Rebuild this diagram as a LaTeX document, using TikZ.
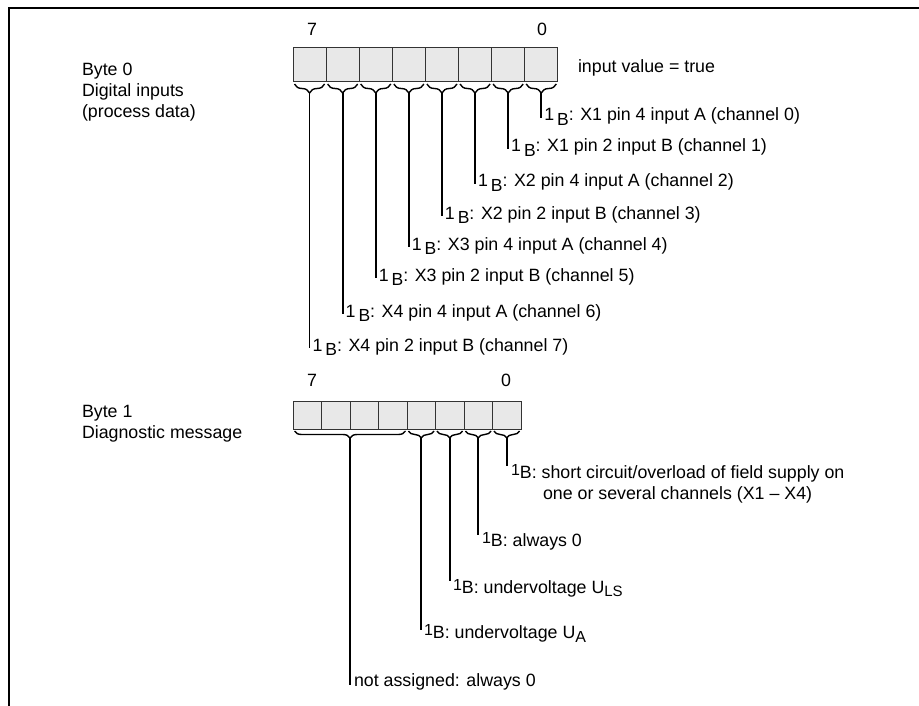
\documentclass[tikz,border=0pt]{standalone}
\usepackage{fontspec}
\setmainfont{Liberation Sans}
\usetikzlibrary{decorations.pathreplacing,calc}
\newcommand{\oneBa}{1\,\raisebox{-4.5pt}{\fontsize{17.5}{17.5}\selectfont B}}
\newcommand{\oneBb}{\raisebox{3pt}{\fontsize{16}{16}\selectfont 1}B}
\begin{document}
\begin{tikzpicture}[x=1pt,y=-1pt,
  txt/.style={inner sep=0pt, outer sep=0pt, font=\fontsize{17.8}{20.8}\selectfont},
  lbl/.style={txt, anchor=base west},
  cellA/.style={draw=black!80, fill=black!9, line width=1pt, minimum width=33.1pt, minimum height=34pt, inner sep=0pt, outer sep=0pt, anchor=north west},
  cellB/.style={cellA, minimum width=28.5pt, minimum height=28pt},
  brc/.style={decorate, decoration={brace, mirror, amplitude=#1}, line width=1.4pt},
  lead/.style={line width=1.8pt}]
\useasboundingbox (0,0) rectangle (919,706);
\draw[line width=2.8pt] (9,706) -- (9,8) -- (919,8);

% ---------- Byte 0 ----------
\node[txt, anchor=north west, align=left] (b0) at (82,63.3) {Byte 0\\Digital inputs\\(process data)};
\node[txt] (n07) at (312,29) {7};
\node[txt] (n00) at (542,29) {0};
\foreach \i in {0,...,7} {
  \node[cellA] (a\i) at ({293+33.1*\i},48) {};
  \draw[brc=9pt] ($(a\i.south west)+(1.5,2)$) -- ($(a\i.south east)+(-1.5,2)$);
  \coordinate (ta\i) at ($(a\i.south)+(0,11)$);
}
\node[lbl] (val) at (578,73) {input value = true};
\foreach \i/\b/\yy/\xc/\p/\io in {7/0/121/X1/4/A, 6/1/152/X1/2/B, 5/2/187/X2/4/A, 4/3/219/X2/2/B, 3/4/250/X3/4/A, 2/5/281/X3/2/B, 1/6/317/X4/4/A, 0/7/351/X4/2/B} {
  \node[lbl] (la\b) at ({293+33.1*\i+16.55+3},\yy) {\oneBa: \xc\ pin \p\ input \io\ (channel \b)};
  \draw[lead] (ta\i) -- ($(ta\i |- la\b.base)+(0,-3)$);
}

% ---------- Byte 1 ----------
\node[txt, anchor=north west, align=left] (b1) at (82,405.3) {Byte 1\\Diagnostic message};
\node[txt] (n17) at (312,380) {7};
\node[txt] (n10) at (506,380) {0};
\foreach \i in {0,...,7} {
  \node[cellB] (c\i) at ({293+28.5*\i},401) {};
}
\draw[brc=7pt] ($(c0.south west)+(1.5,2)$) -- ($(c3.south east)+(-1.5,2)$);
\coordinate (tcH) at ($(c0.south west)!0.5!(c3.south east)+(0,9)$);
\foreach \i in {4,...,7} {
  \draw[brc=7pt] ($(c\i.south west)+(1.5,2)$) -- ($(c\i.south east)+(-1.5,2)$);
  \coordinate (tc\i) at ($(c\i.south)+(0,9)$);
}
\node[lbl] (lc0) at (511,478) {\oneBb: short circuit/overload of field supply on};
\node[lbl] (lc0b) at (543,499) {one or several channels (X1 – X4)};
\node[lbl] (lc1) at (482,546) {\oneBb: always 0};
\node[lbl] (lc2) at (453,593) {\oneBb: undervoltage U\raisebox{-3pt}{\fontsize{15}{15}\selectfont LS}};
\node[lbl] (lc3) at (424,638) {\oneBb: undervoltage U\raisebox{-4pt}{\fontsize{16}{16}\selectfont A}};
\node[lbl] (lcH) at (354,686) {not assigned: always 0};
\draw[lead] (tc7) -- ($(tc7 |- lc0.base)+(0,-12)$);
\draw[lead] (tc6) -- ($(tc6 |- lc1.base)+(0,-11)$);
\draw[lead] (tc5) -- ($(tc5 |- lc2.base)+(0,-12)$);
\draw[lead] (tc4) -- ($(tc4 |- lc3.base)+(0,-8)$);
\draw[lead] (tcH) -- ($(tcH |- lcH.base)+(0,-1)$);
\end{tikzpicture}
\end{document}
